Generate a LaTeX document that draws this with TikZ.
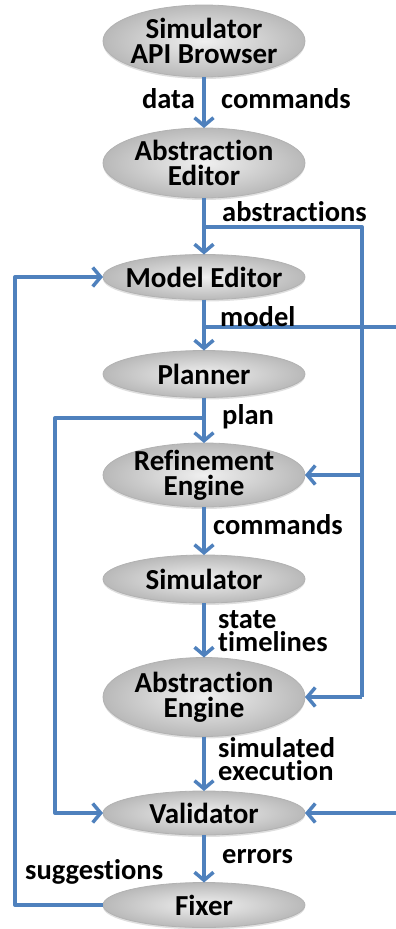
\documentclass[tikz,border=0pt]{standalone}
\usepackage{fontspec}
\setmainfont{Carlito}[Ligatures=NoCommon]
\usetikzlibrary{arrows.meta,shapes.geometric,shadows}
\definecolor{flowblue}{RGB}{79,129,189}
\tikzset{
  box/.style={ellipse, minimum width=202pt, inner sep=0pt, outer sep=0pt,
    draw=gray!60, line width=0.8pt, inner color=gray!12, outer color=gray!55,
    drop shadow={shadow xshift=0pt, shadow yshift=-2pt, opacity=0.25}},
  boxtext/.style={font=\fontsize{29}{25}\selectfont\bfseries, align=center, inner sep=0pt},
  lbl/.style={font=\fontsize{28.5}{23}\selectfont\bfseries, align=left, inner sep=0pt},
  wire/.style={draw=flowblue, line width=4pt, line join=round},
  flow/.style={wire, -{Straight Barb[length=8pt,width=19pt,line width=3.5pt]}},
}
\begin{document}
\begin{tikzpicture}[x=1pt,y=-1pt]
\useasboundingbox (0,0) rectangle (396,929);

% process nodes
\node[box, minimum height=72pt] (api) at (204,41) {};
\node[boxtext] (apit) at (api) {Simulator\\API Browser};
\node[box, minimum height=70pt] (aed) at (204,163) {};
\node[boxtext] (aedt) at (aed) {Abstraction\\Editor};
\node[box, minimum height=45pt] (med) at (204,277) {};
\node[boxtext] (medt) at (med) {Model Editor};
\node[box, minimum height=47pt] (pln) at (204,374) {};
\node[boxtext] (plnt) at (pln) {Planner};
\node[box, minimum height=64pt] (ref) at (204,475) {};
\node[boxtext] (reft) at (ref) {Refinement\\Engine};
\node[box, minimum height=48pt] (sim) at (204,579) {};
\node[boxtext] (simt) at (sim) {Simulator};
\node[box, minimum height=79pt] (aen) at (204,697) {};
\node[boxtext] (aent) at (aen) {Abstraction\\Engine};
\node[box, minimum height=44pt] (val) at (204,813) {};
\node[boxtext] (valt) at (val) {Validator};
\node[box, minimum height=45pt] (fix) at (204,905) {};
\node[boxtext] (fixt) at (fix) {Fixer};

% main chain
\draw[flow] (api.south) -- (aed.north);
\draw[flow] (aed.south) -- (med.north);
\draw[flow] (med.south) -- (pln.north);
\draw[flow] (pln.south) -- (ref.north);
\draw[flow] (ref.south) -- (sim.north);
\draw[flow] (sim.south) -- (aen.north);
\draw[flow] (aen.south) -- (val.north);
\draw[flow] (val.south) -- (fix.north);

% abstractions branch
\coordinate (absj) at (204,227);
\coordinate (absc) at (362,227);
\coordinate (absb) at (362,697);
\coordinate (absm) at (362,475);
\draw[wire] (absj) -- (absc) -- (absb);
\draw[flow] (absb) -- (aen.east);
\draw[flow] (absm) -- (ref.east);

% model branch, leaving and re-entering at the right edge
\coordinate (modj) at (204,327);
\coordinate (mode) at (398,327);
\coordinate (modv) at (398,813);
\draw[wire] (modj) -- (mode);
\draw[flow] (modv) -- (val.east);

% plan branch
\coordinate (plnj) at (204,418);
\coordinate (plnc) at (55,418);
\draw[flow] (plnj) -- (plnc) |- (val.west);

% suggestions loop
\coordinate (sugc) at (15,600);
\draw[flow] (fix.west) -| (sugc) |- (med.west);

% connector labels
\node[lbl, anchor=east] (l1) at (195,99) {data};
\node[lbl, anchor=west] (l2) at (221,99) {commands};
\node[lbl, anchor=west] (l3) at (222,212) {abstractions};
\node[lbl, anchor=west] (l4) at (220,317) {model};
\node[lbl, anchor=west] (l5) at (222,417) {plan};
\node[lbl, anchor=west] (l6) at (213,525) {commands};
\node[lbl, anchor=west] (l7) at (218,631) {state\\timelines};
\node[lbl, anchor=west] (l8) at (218,759) {simulated\\execution};
\node[lbl, anchor=west] (l9) at (222,857) {errors};
\node[lbl, anchor=west] (l10) at (25,872) {suggestions};
\end{tikzpicture}
\end{document}
